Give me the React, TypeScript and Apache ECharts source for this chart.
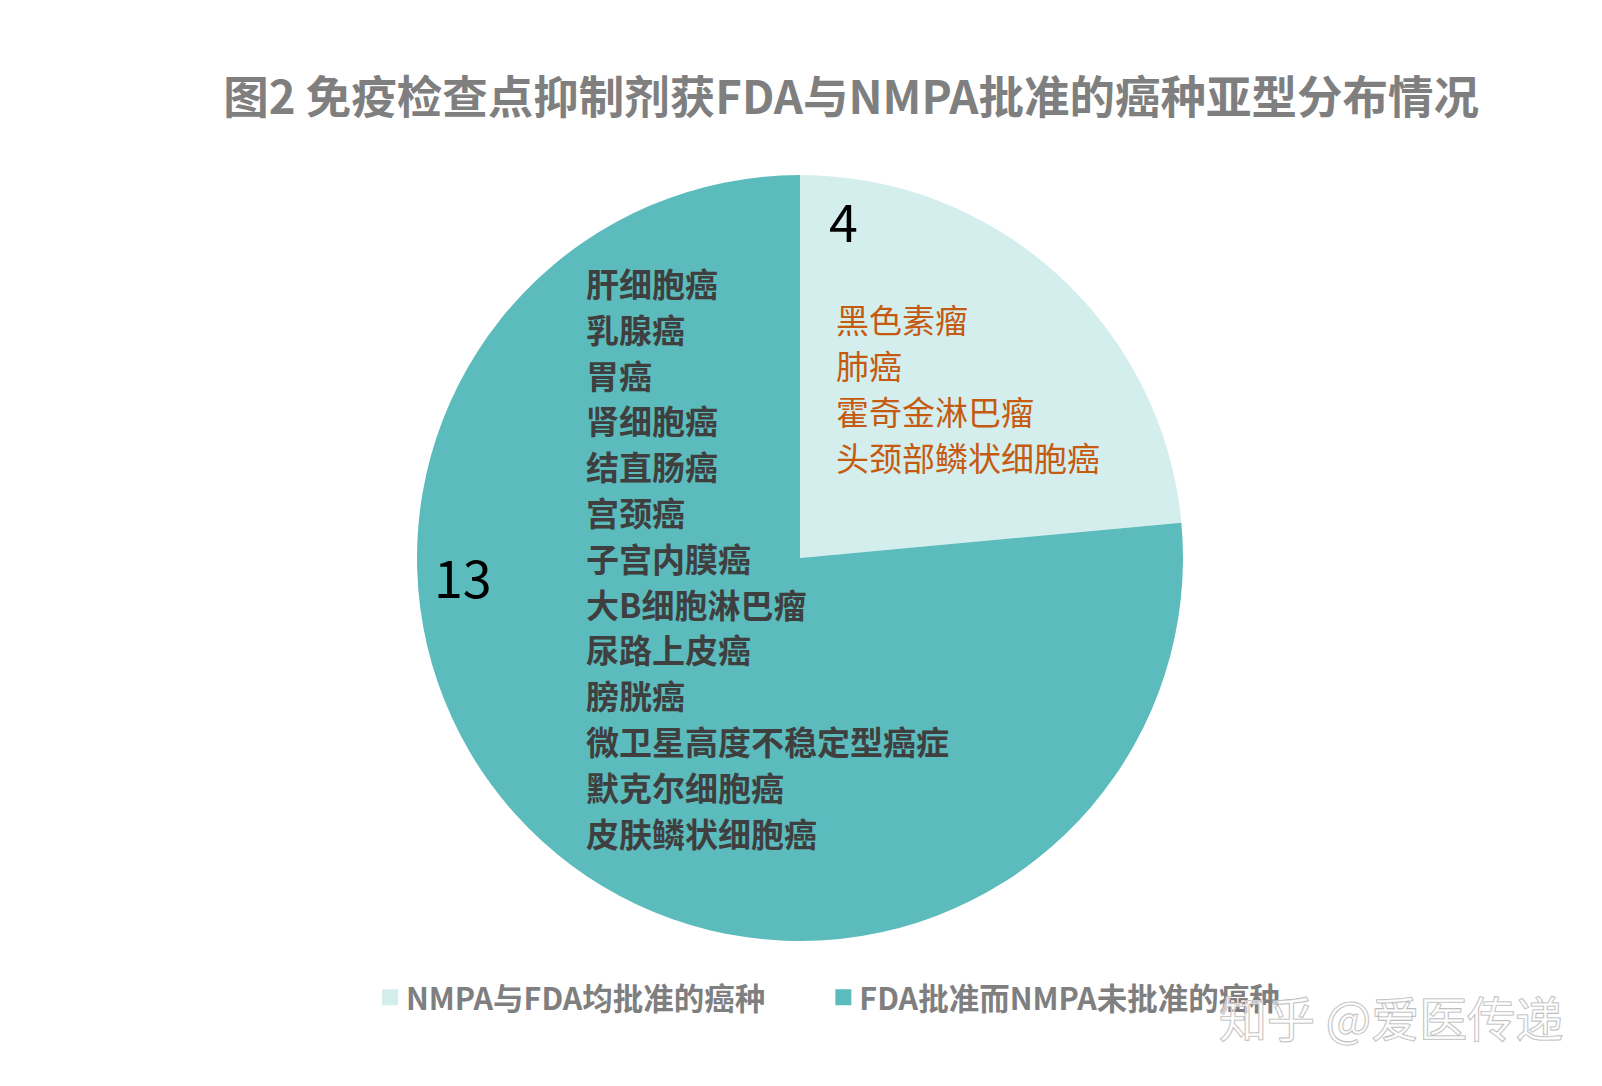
import React, { useEffect, useRef } from "react";
import * as echarts from "echarts";

const title = "图2 免疫检查点抑制剂获FDA与NMPA批准的癌种亚型分布情况";
const categories = ["NMPA与FDA均批准的癌种", "FDA批准而NMPA未批准的癌种"];
const values = [4, 13];
const colors = ["#d4eeee", "#5cbbbc"];
const bothList = ["黑色素瘤", "肺癌", "霍奇金淋巴瘤", "头颈部鳞状细胞癌"];
const fdaOnlyList = [
  "肝细胞癌",
  "乳腺癌",
  "胃癌",
  "肾细胞癌",
  "结直肠癌",
  "宫颈癌",
  "子宫内膜癌",
  "大B细胞淋巴瘤",
  "尿路上皮癌",
  "膀胱癌",
  "微卫星高度不稳定型癌症",
  "默克尔细胞癌",
  "皮肤鳞状细胞癌",
];
const watermark = "知乎 @爱医传递";

const FONT = "'Noto Sans CJK SC', 'Noto Sans', sans-serif";

export default function App() {
  const ref = useRef<HTMLDivElement>(null);
  useEffect(() => {
    document.body.style.margin = "0";
    if (!ref.current) return;
    const chart = echarts.init(ref.current, null, { renderer: "svg" });
    const graphics: any[] = [];
    bothList.forEach((t, i) => {
      graphics.push({
        type: "text",
        x: 836,
        y: 319 + i * 46,
        style: {
          text: t,
          fill: "#c55a11",
          font: `normal 33px ${FONT}`,
          align: "left",
          verticalAlign: "middle",
        },
        z: 10,
      });
    });
    fdaOnlyList.forEach((t, i) => {
      graphics.push({
        type: "text",
        x: 586,
        y: 283 + i * 45.8,
        style: {
          text: t,
          fill: "#3f3f3f",
          font: `bold 33px ${FONT}`,
          align: "left",
          verticalAlign: "middle",
        },
        z: 10,
      });
    });
    graphics.push({
      type: "text",
      x: 829,
      y: 219,
      style: {
        text: String(values[0]),
        fill: "#000",
        font: `52px ${FONT}`,
        align: "left",
        verticalAlign: "middle",
      },
      z: 10,
    });
    graphics.push({
      type: "text",
      x: 434,
      y: 575,
      style: {
        text: String(values[1]),
        fill: "#000",
        font: `52px ${FONT}`,
        align: "left",
        verticalAlign: "middle",
      },
      z: 10,
    });
    graphics.push({
      type: "text",
      x: 1219,
      y: 1016,
      style: {
        text: watermark,
        fill: "rgba(255,255,255,0.55)",
        stroke: "#b4b4b4",
        lineWidth: 1.2,
        font: `48px ${FONT}`,
        align: "left",
        verticalAlign: "middle",
      },
      z: 20,
    });
    graphics.push({
      type: "text",
      x: 851,
      y: 94,
      style: {
        text: title,
        fill: "#7f7f7f",
        font: `bold 45.5px ${FONT}`,
        align: "center",
        verticalAlign: "middle",
      },
      z: 10,
    });
    chart.setOption({
      animation: false,
      backgroundColor: "#ffffff",
      legend: {
        data: categories,
        left: 382,
        top: 982,
        padding: 0,
        icon: "rect",
        itemWidth: 16,
        itemHeight: 16,
        itemGap: 70,
        textStyle: { color: "#7f7f7f", fontSize: 30.5, fontWeight: "bold", fontFamily: FONT, padding: [0, 0, 0, 3] },
      },
      series: [
        {
          type: "pie",
          center: [800, 558],
          radius: [0, 383],
          startAngle: 90,
          clockwise: true,
          label: { show: false },
          labelLine: { show: false },
          emphasis: { disabled: true },
          data: categories.map((c, i) => ({
            name: c,
            value: values[i],
            itemStyle: { color: colors[i], borderWidth: 0 },
          })),
        },
      ],
      graphic: graphics,
    });
    return () => chart.dispose();
  }, []);
  return <div ref={ref} style={{ width: 1602, height: 1086 }} />;
}
